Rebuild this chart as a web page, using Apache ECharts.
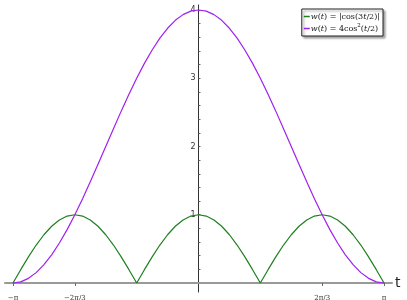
<!DOCTYPE html>
<html><head><meta charset="utf-8">
<script src="https://cdn.jsdelivr.net/npm/echarts@6/dist/echarts.min.js"></script>
<style>html,body{margin:0;padding:0;background:#fff}#c{width:407px;height:300px}</style>
</head><body><div id="c"></div>
<script>
const tValues = [-3.142,-3.011,-2.880,-2.749,-2.618,-2.487,-2.356,-2.225,-2.094,-1.963,-1.833,-1.702,-1.571,-1.440,-1.309,-1.178,-1.047,-0.916,-0.785,-0.654,-0.524,-0.393,-0.262,-0.131,0,
  0.131,0.262,0.393,0.524,0.654,0.785,0.916,1.047,1.178,1.309,1.440,1.571,1.702,1.833,1.963,2.094,2.225,2.356,2.487,2.618,2.749,2.880,3.011,3.142];
const greenValues = [0,0.195,0.383,0.556,0.707,0.831,0.924,0.981,1,0.981,0.924,0.831,0.707,0.556,0.383,0.195,0,0.195,0.383,0.556,0.707,0.831,0.924,0.981,1,
  0.981,0.924,0.831,0.707,0.556,0.383,0.195,0,0.195,0.383,0.556,0.707,0.831,0.924,0.981,1,0.981,0.924,0.831,0.707,0.556,0.383,0.195,0];
const purpleValues = [0,0.017,0.068,0.152,0.268,0.413,0.586,0.782,1.0,1.235,1.482,1.739,2.0,2.261,2.518,2.765,3.0,3.218,3.414,3.587,3.732,3.848,3.932,3.983,4.0,
  3.983,3.932,3.848,3.732,3.587,3.414,3.218,3.0,2.765,2.518,2.261,2.0,1.739,1.482,1.235,1.0,0.782,0.586,0.413,0.268,0.152,0.068,0.017,0];
const xTickValues = [-Math.PI, -2*Math.PI/3, 2*Math.PI/3, Math.PI];
const xTickLabels = ['\u2212\u03c0', '\u22122\u03c0/3', '2\u03c0/3', '\u03c0'];
const yTickValues = [1, 2, 3, 4];
const yTickLabels = ['1', '2', '3', '4'];
const yAllTicks = [0.2,0.4,0.6,0.8,1,1.2,1.4,1.6,1.8,2,2.2,2.4,2.6,2.8,3,3.2,3.4,3.6,3.8,4];
const seriesNames = ['w1', 'w2'];
const legendTexts = {
  w1: '{i|w}({i|t}) = |cos(3{i|t}/2)|',
  w2: '{i|w}({i|t}) = 4cos{s|2}({i|t}/2)'
};

const chart = echarts.init(document.getElementById('c'));
const pair = vals => tValues.map((t, i) => [t, vals[i]]);
const serif = '"DejaVu Serif", "Liberation Serif", serif';
chart.setOption({
  animation: false,
  grid: { left: 5, right: 15, top: 5, bottom: 8, containLabel: false, outerBoundsMode: 'none' },
  legend: {
    right: 24, top: 9,
    orient: 'vertical',
    itemWidth: 6, itemHeight: 1.5, itemGap: 1,
    icon: 'rect',
    backgroundColor: '#fff',
    borderColor: '#222', borderWidth: 1,
    shadowColor: 'rgba(0,0,0,0.35)', shadowOffsetX: 2, shadowOffsetY: 2, shadowBlur: 2,
    padding: [2, 3, 2, 2],
    data: seriesNames,
    formatter: n => legendTexts[n],
    textStyle: {
      fontFamily: serif, fontSize: 8, color: '#111', padding: [0,0,0,-4], lineHeight: 11,
      rich: {
        i: { fontFamily: serif, fontStyle: 'italic', fontSize: 8, color: '#111', lineHeight: 11 },
        s: { fontFamily: serif, fontSize: 5.5, color: '#111', verticalAlign: 'top', padding: [0,0,4,0], lineHeight: 11 }
      }
    }
  },
  xAxis: {
    type: 'value',
    min: -3.277, max: 3.277,
    name: 't', nameLocation: 'end', nameGap: 3,
    nameTextStyle: { fontSize: 14, color: '#222', fontFamily: '"DejaVu Sans", sans-serif', verticalAlign: 'middle', padding: [0,0,3,0] },
    axisLine: { onZero: true, lineStyle: { color: '#999', width: 2 } },
    axisTick: { customValues: xTickValues, length: 3, inside: false, lineStyle: { color: '#666', width: 1 } },
    axisLabel: {
      customValues: xTickValues,
      formatter: v => { let b = 0; xTickValues.forEach((x, i) => { if (Math.abs(x - v) < Math.abs(xTickValues[b] - v)) b = i; }); return xTickLabels[b]; },
      fontSize: 7, color: '#333', margin: 3, fontFamily: serif
    },
    splitLine: { show: false }
  },
  yAxis: {
    type: 'value',
    min: -0.132, max: 4.073,
    position: 'left',
    offset: -193.5,
    axisLine: { onZero: false, lineStyle: { color: '#333', width: 1 } },
    axisTick: { customValues: yAllTicks, inside: true, length: 2, lineStyle: { color: '#666' } },
    axisLabel: {
      customValues: yTickValues,
      formatter: v => yTickLabels[yTickValues.indexOf(Math.round(v))],
      fontSize: 8, color: '#333', margin: 3, fontFamily: '"DejaVu Sans", sans-serif'
    },
    splitLine: { show: false }
  },
  series: [
    { name: 'w1', type: 'line', data: pair(greenValues), showSymbol: false, symbol: 'none',
      lineStyle: { color: '#1f801f', width: 1.2 }, itemStyle: { color: '#1f801f' }, z: 3 },
    { name: 'w2', type: 'line', data: pair(purpleValues), showSymbol: false, symbol: 'none',
      lineStyle: { color: '#a020f0', width: 1.2 }, itemStyle: { color: '#a020f0' }, z: 3 }
  ]
});
</script></body></html>
